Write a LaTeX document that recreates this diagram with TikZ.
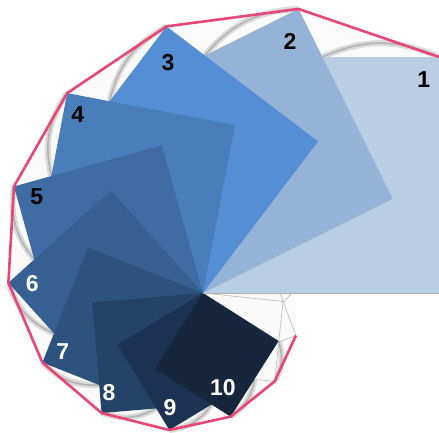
\documentclass[tikz,border=0pt]{standalone}
\usepackage{fontspec}
\setsansfont{Liberation Sans}
\usepackage{tikz}
\usetikzlibrary{
  calc% coordinate calculations
}
\definecolor{sq1}{RGB}{185,205,229}
\definecolor{sq2}{RGB}{149,179,215}
\definecolor{sq3}{RGB}{85,142,213}
\definecolor{sq4}{RGB}{74,126,187}
\definecolor{sq5}{RGB}{63,108,163}
\definecolor{sq6}{RGB}{55,96,146}
\definecolor{sq7}{RGB}{46,82,126}
\definecolor{sq8}{RGB}{37,66,104}
\definecolor{sq9}{RGB}{28,50,82}
\definecolor{sq10}{RGB}{22,38,60}
\definecolor{rimred}{RGB}{232,70,118}
\tikzset{
  num label/.style={
    font=\sffamily\bfseries\fontsize{23}{23}\selectfont,
    inner sep=0pt
  },
  ghost square/.style={
    fill=gray!5,
    draw=gray!55,
    line width=0.6pt
  },
  shell shadow/.style={
    gray!65,
    line width=6pt,
    opacity=0.4
  },
  shell edge/.style={
    gray!80,
    line width=1.6pt,
    opacity=0.6
  },
  rim/.style={
    rimred,
    line width=2.6pt,
    line join=round
  }
}

\begin{document}
\begin{tikzpicture}[x=1pt, y=1pt] % squares turning round one shared corner, each a bit smaller
  \useasboundingbox (-203,-139) rectangle (236,293); % frame of the picture
  \def\turn{26.4}   % turn from one square to the next
  \def\shrink{0.898} % side ratio from one square to the next

  % shared corner, then for every square: right corner r, apex a, left corner t
  \coordinate (o) at (0,0);
  \foreach \n in {1,...,13}{
    \pgfmathsetmacro\rot{(\n-1)*\turn}
    \pgfmathsetmacro\side{236*\shrink^(\n-1)}
    \coordinate (r\n) at (\rot:\side);
    \coordinate (a\n) at ({\rot+45}:{\side*sqrt(2)});
    \coordinate (t\n) at ({\rot+90}:\side);
  }

  % pale shell behind the squares
  \fill[gray!4] (o) -- (a1) -- (a2) -- (a3) -- (a4) -- (a5) -- (a6) -- (a7)
    -- (a8) -- (a9) -- (a10) -- (a11) -- (a12) -- (a13) -- cycle;
  \foreach \n [evaluate=\n as \m using int(\n+1)] in {1,...,11}{
    \coordinate (x\n) at (intersection cs: first line={(a\n)--(t\n)},
                                           second line={(a\m)--(r\m)}); % where square n meets square n+1
    \draw[shell shadow] (x\n) to[bend left=24] (a\n); % curled shadow in the gap
    \draw[shell edge] (x\n) to[bend left=24] (a\n);
  }

  % the small squares that only show as outlines
  \foreach \n in {13,12,11}{
    \filldraw[ghost square] (o) -- (r\n) -- (a\n) -- (t\n) -- cycle;
  }

  % the ten coloured squares, largest first
  \foreach \n in {1,...,10}{
    \fill[sq\n] (o) -- (r\n) -- (a\n) -- (t\n) -- cycle;
  }
  \draw[gray!60, line width=0.8pt] (o) -- (r1); % thin edge under square 1

  % red rim through the apexes
  \draw[rim] (a1) -- (a2) -- (a3) -- (a4) -- (a5) -- (a6) -- (a7) -- (a8)
    -- (a9) -- (a10) -- (a11) -- (a12);

  % numbers near each apex (shift along and across the diagonal)
  \foreach \n/\ink/\dr/\da in {1/black/-27/-1, 2/black/-34/-0.5, 3/black/-36/0.8,
                               4/black/-24/0.9, 5/black/-25/-0.6, 6/white/-24/0,
                               7/white/-23/-0.6, 8/white/-20/-3, 9/white/-22/-2.3,
                               10/white/-30/-0.7}{
    \pgfmathsetmacro\rot{(\n-1)*\turn}
    \pgfmathsetmacro\side{236*\shrink^(\n-1)}
    \node[num label, text=\ink] (l\n) at ({\rot+45+\da}:{\side*sqrt(2)+\dr}) {\n};
  }
\end{tikzpicture}
\end{document}
